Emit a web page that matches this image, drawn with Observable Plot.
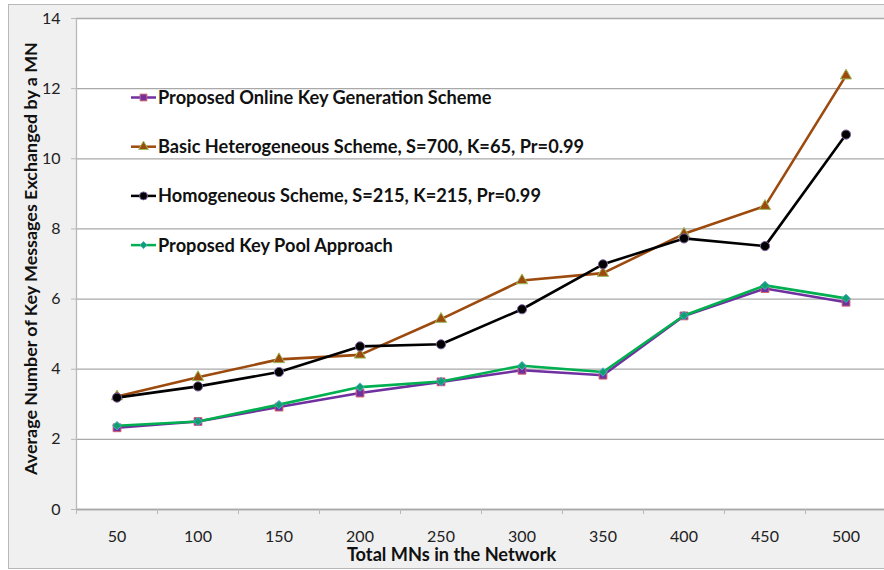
<!DOCTYPE html>
<html><head><meta charset="utf-8">
<script src="https://cdn.jsdelivr.net/npm/d3@7"></script>
<script src="https://cdn.jsdelivr.net/npm/@observablehq/plot@0.6"></script>
<style>
body{margin:0;background:#fff;}
#wrap{position:relative;width:884px;height:570px;overflow:hidden;}
#bg{position:absolute;left:8px;top:4px;width:900px;height:565px;background:#f0f0f0;border:1.3px solid #b8b8b8;box-sizing:border-box;}
#chart{position:absolute;left:0;top:0;}
svg{display:block;}
</style>
</head><body><div id="wrap"><div id="bg"></div><div id="chart"></div></div>
<script>
const categories = [50, 100, 150, 200, 250, 300, 350, 400, 450, 500];
const onlineKeyGeneration = [2.33, 2.51, 2.92, 3.32, 3.64, 3.97, 3.83, 5.52, 6.30, 5.91];
const basicHeterogeneous = [3.22, 3.77, 4.28, 4.41, 5.43, 6.53, 6.74, 7.86, 8.65, 12.37];
const homogeneous = [3.19, 3.51, 3.92, 4.65, 4.71, 5.71, 6.99, 7.73, 7.51, 10.69];
const keyPoolApproach = [2.39, 2.51, 2.99, 3.49, 3.65, 4.10, 3.92, 5.53, 6.39, 6.02];
const seriesNames = [
  "Proposed Online Key Generation Scheme",
  "Basic Heterogeneous Scheme, S=700, K=65, Pr=0.99",
  "Homogeneous Scheme, S=215, K=215, Pr=0.99",
  "Proposed Key Pool Approach"
];
const yTicks = [0, 2, 4, 6, 8, 10, 12, 14];
const xTitle = "Total MNs in the Network";
const yTitle = "Average Number of Key Messages Exchanged by a MN";

const FONT = "Lato, 'Open Sans', sans-serif";
const GRID = "#a9a9a9";
const step = categories[1] - categories[0];
const xBoundaries = categories.map(c => c - step / 2).concat([categories[categories.length - 1] + step / 2]);

const styles = [
  {values: onlineKeyGeneration, color: "#7030a0", symbol: "square", d3sym: d3.symbolSquare, fill: "#7030a0", stroke: "#d06070", r: 4.4},
  {values: basicHeterogeneous, color: "#9c4a0e", symbol: "triangle", d3sym: d3.symbolTriangle, fill: "#9c4a0e", stroke: "#9bbb59", r: 4.2},
  {values: homogeneous, color: "#000000", symbol: "circle", d3sym: d3.symbolCircle, fill: "#000000", stroke: "#8064a2", r: 4.6},
  {values: keyPoolApproach, color: "#00b050", symbol: "diamond2", d3sym: d3.symbolDiamond2, fill: "#10a070", stroke: "#4bacc6", r: 3.8}
];
const series = styles.map((s, i) => ({...s, name: seriesNames[i],
  rows: categories.map((c, j) => ({x: c, y: s.values[j], series: seriesNames[i]}))}));

function legend() {
  const g = d3.create("svg:g").attr("font-family", FONT).attr("font-weight", "bold")
    .attr("font-size", 18.2).attr("fill", "#111").attr("text-anchor", "start");
  series.forEach((s, i) => {
    const cy = 97.5 + i * 49.2;
    g.append("line").attr("x1", 131).attr("x2", 156).attr("y1", cy).attr("y2", cy)
      .attr("stroke", s.color).attr("stroke-width", 2.5);
    g.append("path").attr("transform", `translate(143.5,${cy})`)
      .attr("d", d3.symbol(s.d3sym, Math.PI * (s.r - 0.6) * (s.r - 0.6))())
      .attr("fill", s.fill).attr("stroke", s.stroke).attr("stroke-width", 1);
    g.append("text").attr("x", 158).attr("y", cy).attr("dy", "0.36em").attr("text-anchor", "start").text(s.name);
  });
  return g.node();
}

const marks = [
  Plot.frame({fill: "white", stroke: null}),
  Plot.gridY(yTicks, {stroke: GRID, strokeOpacity: 1, strokeWidth: 1.3}),
  Plot.ruleX([xBoundaries[0]], {stroke: "#b8b8b8", strokeWidth: 1.3}),
  Plot.ruleY([0], {stroke: GRID, strokeWidth: 1.3}),
  Plot.axisY(yTicks, {tickSize: 5, tickPadding: 11, stroke: "#b8b8b8", fill: "#222", fontSize: 16, label: null}),
  Plot.axisX(xBoundaries, {tickSize: 5, tickFormat: () => "", stroke: "#b8b8b8", label: null}),
  Plot.axisX(categories, {tickSize: 0, tickPadding: 21, fill: "#222", fontSize: 16, label: null}),
  Plot.text([xTitle], {frameAnchor: "bottom", lineAnchor: "middle", textAnchor: "middle", dx: -29, dy: 46, fontWeight: "bold", fontSize: 18.2, fill: "#111"}),
  Plot.text([yTitle], {frameAnchor: "left", lineAnchor: "middle", textAnchor: "middle", rotate: -90, dx: -45, dy: -5.5, fontWeight: "bold", fontSize: 17.9, fill: "#111"}),
  legend
];
series.forEach(s => {
  marks.push(Plot.line(s.rows, {x: "x", y: "y", stroke: s.color, strokeWidth: 2.6}));
  marks.push(Plot.dot(s.rows, {x: "x", y: "y", symbol: () => s.symbol, r: s.r, fill: s.fill, stroke: s.stroke, strokeWidth: 1}));
});

const chart = Plot.plot({
  width: 884, height: 570,
  marginLeft: 76, marginRight: 0, marginTop: 18, marginBottom: 61,
  style: {fontFamily: FONT, fontSize: "16px", background: "transparent", color: "#222"},
  x: {type: "linear", domain: [xBoundaries[0], xBoundaries[xBoundaries.length - 1]], range: [76, 886]},
  y: {domain: [0, 14]},
  symbol: {type: "identity"},
  marks
});
document.getElementById("chart").append(chart);
</script>
</body></html>
